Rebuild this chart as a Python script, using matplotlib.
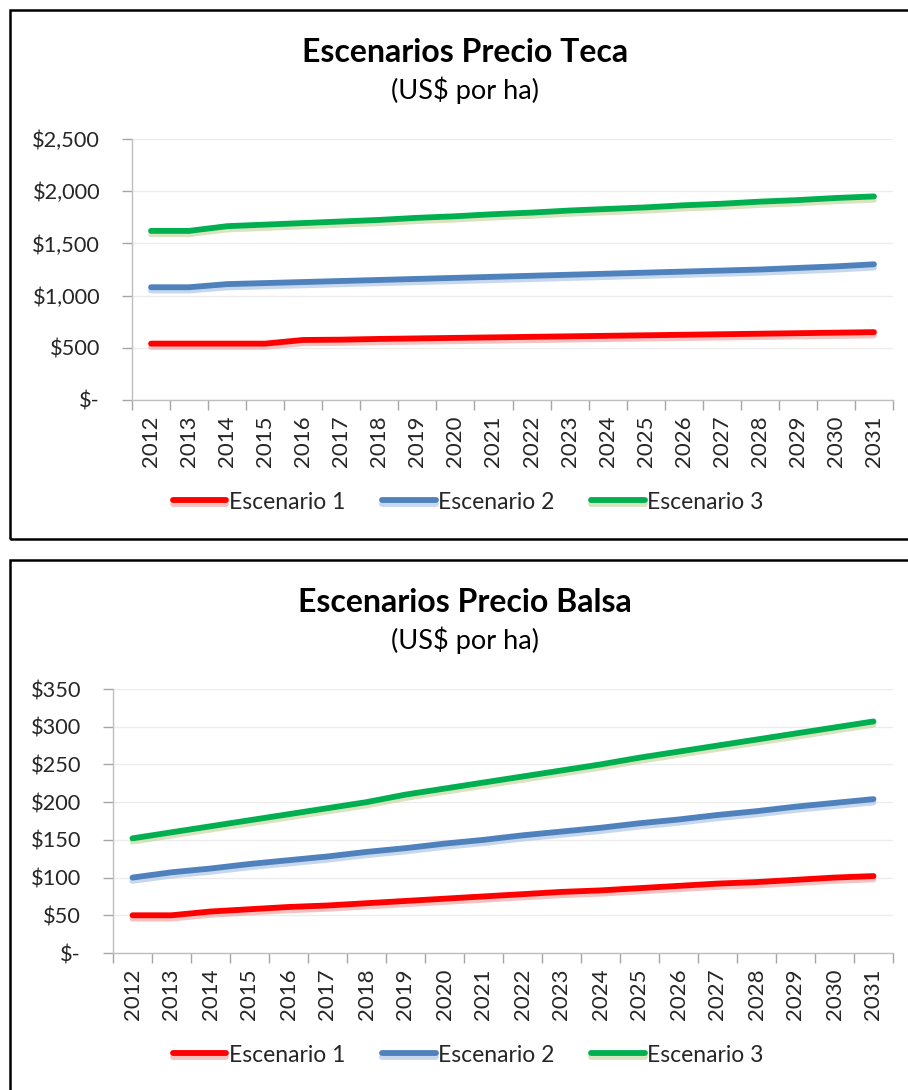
import matplotlib
matplotlib.use("Agg")
import matplotlib.pyplot as plt
import matplotlib.patches as patches
import matplotlib.patheffects as pe
from matplotlib.ticker import FuncFormatter, MultipleLocator

plt.rcParams['font.family'] = ['Lato', 'DejaVu Sans']

years = [str(y) for y in range(2012, 2032)]
series_names = ['Escenario 1', 'Escenario 2', 'Escenario 3']

# Teca (US$ por ha)
teca_e1 = [540, 540, 540, 540, 575, 578, 585, 590, 595, 600,
           605, 610, 615, 620, 625, 630, 635, 640, 645, 650]
teca_e2 = [1080, 1080, 1110, 1120, 1130, 1140, 1150, 1160, 1170, 1180,
           1190, 1200, 1210, 1220, 1230, 1240, 1250, 1265, 1280, 1300]
teca_e3 = [1620, 1620, 1665, 1680, 1695, 1710, 1725, 1745, 1760, 1780,
           1795, 1815, 1830, 1845, 1865, 1880, 1900, 1915, 1935, 1950]

# Balsa (US$ por ha)
balsa_e1 = [50, 50, 55, 58, 61, 63, 66, 69, 72, 75,
            78, 81, 83, 86, 89, 92, 94, 97, 100, 102]
balsa_e2 = [100, 107, 112, 118, 123, 128, 134, 139, 145, 150,
            156, 161, 166, 172, 177, 183, 188, 194, 199, 204]
balsa_e3 = [152, 160, 168, 176, 184, 192, 200, 210, 218, 226,
            234, 242, 250, 259, 267, 275, 283, 291, 299, 307]

colors = ['#ff0000', '#4f81bd', '#00b050']
shadows = ['#f2a0a0', '#a9c4e6', '#c3d69b']

W, H = 908, 1090
fig = plt.figure(figsize=(W / 100, H / 100), dpi=100)


def fx(px):
    return px / W


def fy(py):
    return 1 - py / H


def money(v, pos):
    if v == 0:
        return '$-'
    return '${:,.0f}'.format(v)


def draw_chart(box, axpos, title, data, ymax, step, title_y, legend_y):
    # black frame round the chart
    x0, y0, y1 = box
    rect = patches.Rectangle((fx(x0), fy(y1)), 1.2, fy(y0) - fy(y1),
                             transform=fig.transFigure, fill=False,
                             edgecolor='black', linewidth=1.8)
    fig.patches.append(rect)

    left, top, right, bottom = axpos
    ax = fig.add_axes([fx(left), fy(bottom), fx(right) - fx(left), fy(top) - fy(bottom)])
    x = list(range(len(years)))
    for vals, c, sc, name in zip(data, colors, shadows, series_names):
        ax.plot(x, vals, color=c, lw=4.2, solid_capstyle='round', label=name,
                path_effects=[pe.SimpleLineShadow(offset=(0, -2.4), shadow_color=sc,
                                                  alpha=0.65), pe.Normal()])

    ax.set_xlim(-0.5, len(years) - 0.5)
    ax.set_ylim(0, ymax)
    ax.yaxis.set_major_locator(MultipleLocator(step))
    ax.yaxis.set_major_formatter(FuncFormatter(money))
    ax.set_xticks(x)
    ax.set_xticklabels(years, rotation=90)
    ax.set_xticks([i - 0.5 for i in range(len(years) + 1)], minor=True)
    ax.tick_params(axis='x', which='major', length=0, pad=11, labelsize=16, labelcolor='#262626')
    ax.tick_params(axis='x', which='minor', length=7, color='#a6a6a6', width=1)
    ax.tick_params(axis='y', length=7, color='#a6a6a6', width=1, pad=16,
                   labelsize=15.7, labelcolor='#262626')
    ax.grid(axis='y', color='#ececec', lw=1)
    ax.set_axisbelow(True)
    for s in ['top', 'right']:
        ax.spines[s].set_visible(False)
    for s in ['left', 'bottom']:
        ax.spines[s].set_color('#bfbfbf')
        ax.spines[s].set_linewidth(1)

    cx = fx(465)
    fig.text(cx, fy(title_y), title, ha='center', va='center',
             fontsize=23, fontweight='bold', color='black')
    fig.text(cx, fy(title_y + 38), '(US$ por ha)', ha='center', va='center',
             fontsize=19.5, color='black')

    fig.legend(*ax.get_legend_handles_labels(), loc='center', ncol=3,
               bbox_to_anchor=(fx(468), fy(legend_y)), frameon=False,
               fontsize=16.5, handlelength=2.35, handletextpad=0.1,
               columnspacing=1.6, labelcolor='#262626')
    return ax


draw_chart((10, 10, 539), (132, 139, 893, 400), 'Escenarios Precio Teca',
           [teca_e1, teca_e2, teca_e3], 2500, 500, 52, 502)
draw_chart((10, 560, 1100), (113, 689, 893, 953), 'Escenarios Precio Balsa',
           [balsa_e1, balsa_e2, balsa_e3], 350, 50, 602, 1055)

fig.savefig('out.png', dpi=100, facecolor='white')
